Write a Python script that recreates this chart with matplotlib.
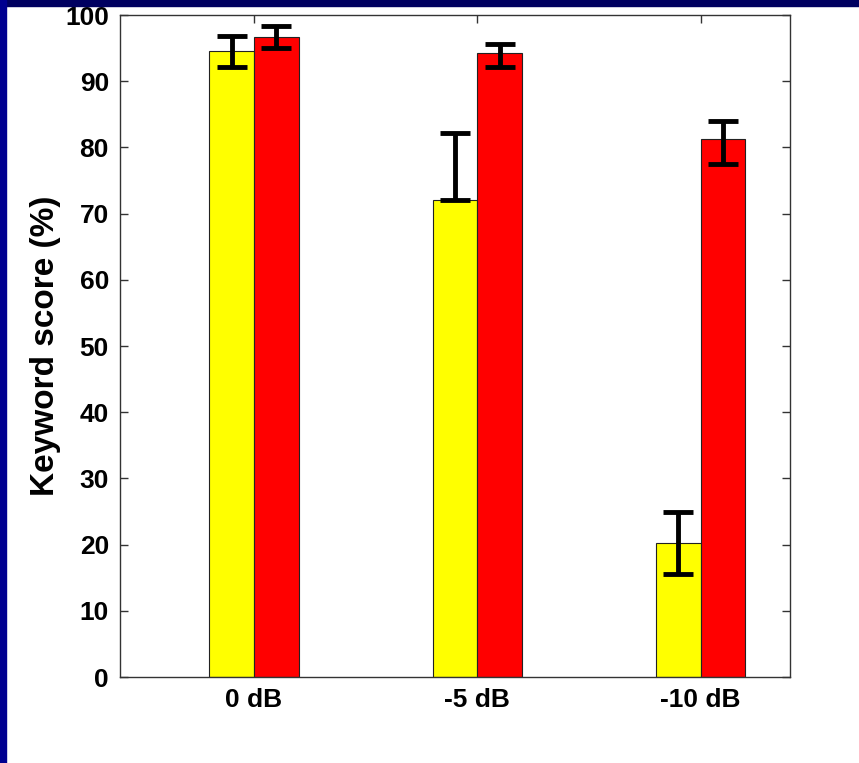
import matplotlib.pyplot as plt
import numpy as np
from matplotlib.patches import Rectangle

conditions = ['0 dB', '-5 dB', '-10 dB']
yellow_vals = [94.5, 72.0, 20.3]
yellow_err_lo = [2.4, 0.0, 4.7]
yellow_err_hi = [2.4, 10.2, 4.7]
red_vals = [96.7, 94.3, 81.3]
red_err_lo = [1.7, 2.2, 3.8]
red_err_hi = [1.7, 1.3, 2.7]

plt.rcParams['font.family'] = ['Liberation Sans', 'DejaVu Sans']
plt.rcParams['font.weight'] = 'bold'

fig = plt.figure(figsize=(8.59, 7.63), dpi=100)
ax = fig.add_axes([0.1397, 0.1127, 0.78, 0.8676])

x = np.arange(1, len(conditions) + 1)
w = 0.2
ax.bar(x - w / 2, yellow_vals, w, color='#ffff00', edgecolor='#222222', linewidth=0.8, zorder=2)
ax.bar(x + w / 2, red_vals, w, color='#ff0000', edgecolor='#222222', linewidth=0.8, zorder=2)
ax.errorbar(x - w / 2, yellow_vals, yerr=[yellow_err_lo, yellow_err_hi], fmt='none',
            ecolor='black', elinewidth=3.5, capsize=11, capthick=3.5, zorder=3)
ax.errorbar(x + w / 2, red_vals, yerr=[red_err_lo, red_err_hi], fmt='none',
            ecolor='black', elinewidth=3.5, capsize=11, capthick=3.5, zorder=3)

ax.set_xlim(0.4, 3.4)
ax.set_ylim(0, 100)
ax.set_xticks(x)
ax.set_xticklabels(conditions)
ax.set_yticks(np.arange(0, 101, 10))
ax.tick_params(axis='both', direction='in', length=6, width=1, color='#333333',
               labelsize=19, top=True, right=True, pad=8)
for lab in ax.get_xticklabels() + ax.get_yticklabels():
    lab.set_fontweight('bold')
ax.set_ylabel('Keyword score (%)', fontsize=24, fontweight='bold', labelpad=3)
for sp in ax.spines.values():
    sp.set_color('#333333')
    sp.set_linewidth(1)

# slide background bands
fig.add_artist(Rectangle((0, 1 - 6 / 763), 1, 6 / 763, transform=fig.transFigure,
                         color='#000060', zorder=10))
fig.add_artist(Rectangle((0, 0), 6 / 859, 1, transform=fig.transFigure,
                         color='#000090', zorder=10))

fig.savefig('out.png', dpi=100)
